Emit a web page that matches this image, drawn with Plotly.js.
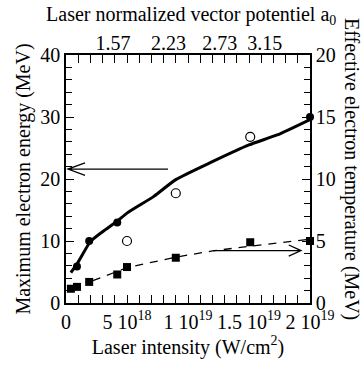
<!DOCTYPE html>
<html><head><meta charset="utf-8">
<script src="https://cdn.plot.ly/plotly-3.0.1.min.js"></script>
<style>
html,body{margin:0;padding:0;background:#fff}
#chart text, #chart tspan { font-family: "Liberation Serif", "Times New Roman", serif !important; }
</style>
</head><body><div id="chart"></div>
<script>
// Maximum electron energy (MeV), filled circles
const intensityFilled = [0.9e18, 1.9e18, 4.2e18, 2.0e19];
const energyFilled = [5.9, 10, 13, 30];
// Maximum electron energy (MeV), open circles
const intensityOpen = [5.0e18, 9.0e18, 1.51e19];
const energyOpen = [10, 17.7, 26.8];
// Effective electron temperature (MeV), squares
const intensitySquare = [0.4e18, 0.9e18, 1.9e18, 4.2e18, 5.0e18, 9.0e18, 1.51e19, 2.0e19];
const temperatureSquare = [1.15, 1.3, 1.7, 2.3, 2.9, 3.65, 4.9, 5.0];
// Solid fit curve (energy)
const fitEnergyX = [0.4e18, 1e18, 2e18, 3e18, 4.2e18, 5e18, 7.2e18, 9e18, 1.2e19, 1.5e19, 1.73e19, 2e19];
const fitEnergyY = [4.9, 6.6, 9.9, 11.5, 13.2, 14.5, 17.2, 19.9, 22.8, 25.5, 27.1, 29.6];
// Dashed fit curve (temperature)
const fitTempX = [2.2e18, 5e18, 9e18, 1.2e19, 1.5e19, 2e19];
const fitTempY = [1.8, 2.85, 3.7, 4.2, 4.57, 5.15];
// Tick labels
const bottomTickVals = [0, 5e18, 1e19, 1.5e19, 2e19];
const bottomTickText = ['0', '5 10<sup>18</sup>', '1 10<sup>19</sup>', '1.5 10<sup>19</sup>', '2 10<sup>19</sup>'];
const topTickVals = [3.85e18, 8.4e18, 1.26e19, 1.63e19];
const topTickText = ['1.57', '2.23', '2.73', '3.15'];
// Arrows (chart units): left arrow points to energy axis, right arrow to temperature axis
const leftArrowX = [8.36e18, 0.16e18];
const leftArrowY = [21.6, 21.6];
const rightArrowX = [1.205e19, 1.926e19];
const rightArrowY = [8.45, 8.45];

const black = '#000';
function fnt() { return {family: 'Liberation Serif', size: 20, color: black}; }

function arrowPath(x0, x1, y, dxHead, dyHead) {
  const dir = x1 > x0 ? -1 : 1;
  const bx = x1 + dir * dxHead;
  return `M ${x0} ${y} L ${x1} ${y} M ${bx} ${y + dyHead} L ${x1} ${y} L ${bx} ${y - dyHead}`;
}

const traces = [
  {x: fitEnergyX, y: fitEnergyY, mode: 'lines', line: {color: black, width: 3, shape: 'spline', smoothing: 0.6}, xaxis: 'x', yaxis: 'y', hoverinfo: 'none'},
  {x: fitTempX, y: fitTempY, mode: 'lines', line: {color: black, width: 1.3, dash: '8px,7px'}, xaxis: 'x', yaxis: 'y2', hoverinfo: 'none'},
  {x: intensityFilled, y: energyFilled, mode: 'markers', marker: {symbol: 'circle', size: 8, color: black}, xaxis: 'x', yaxis: 'y', cliponaxis: false},
  {x: intensityOpen, y: energyOpen, mode: 'markers', marker: {symbol: 'circle-open', size: 9, color: black, line: {width: 1.2}}, xaxis: 'x', yaxis: 'y', cliponaxis: false},
  {x: intensitySquare, y: temperatureSquare, mode: 'markers', marker: {symbol: 'square', size: 8, color: black}, xaxis: 'x', yaxis: 'y2', cliponaxis: false},
  {x: [0], y: [0], mode: 'markers', marker: {opacity: 0}, xaxis: 'x2', yaxis: 'y', hoverinfo: 'none'}
];

const layout = {
  width: 363, height: 370,
  margin: {l: 66, r: 53, t: 55, b: 66.5, pad: 0},
  paper_bgcolor: '#fff', plot_bgcolor: '#fff',
  showlegend: false,
  font: fnt(),
  title: {text: 'Laser normalized vector potentiel a<sub>0</sub>', font: fnt(), x: 0.513, xref: 'paper', xanchor: 'center', y: 0.962, yref: 'container', yanchor: 'middle'},
  xaxis: {
    range: [0, 2e19], showline: true, linecolor: black, linewidth: 1.5, mirror: 'allticks',
    ticks: 'inside', ticklen: 8, tickwidth: 1.2, tickcolor: black,
    tickvals: bottomTickVals, ticktext: bottomTickText, tickfont: fnt(),
    minor: {dtick: 1e18, tick0: 0, ticks: 'inside', ticklen: 5, tickwidth: 1, tickcolor: black, showgrid: false},
    showgrid: false, zeroline: false,
    title: {text: 'Laser intensity (W/cm<sup>2</sup>)', font: fnt(), standoff: 8}
  },
  xaxis2: {
    range: [0, 2e19], overlaying: 'x', side: 'top', showline: false, ticks: '',
    tickvals: topTickVals, ticktext: topTickText, tickfont: fnt(),
    showgrid: false, zeroline: false
  },
  yaxis: {
    range: [0, 40], showline: true, linecolor: black, linewidth: 1.5,
    ticks: 'inside', ticklen: 8, tickwidth: 1.2, tickcolor: black, dtick: 10, tick0: 0,
    minor: {dtick: 2, ticks: 'inside', ticklen: 6, tickwidth: 1, tickcolor: black, showgrid: false},
    tickfont: fnt(), showgrid: false, zeroline: false,
    title: {text: 'Maximum electron energy (MeV)', font: fnt(), standoff: 4}
  },
  yaxis2: {
    range: [0, 20], overlaying: 'y', side: 'right', showline: true, linecolor: black, linewidth: 1.5,
    ticks: 'inside', ticklen: 8, tickwidth: 1.2, tickcolor: black, dtick: 5, tick0: 0,
    minor: {dtick: 1, ticks: 'inside', ticklen: 6, tickwidth: 1, tickcolor: black, showgrid: false},
    tickfont: fnt(), showgrid: false, zeroline: false
  },
  shapes: [
    {type: 'path', xref: 'x', yref: 'y', path: arrowPath(leftArrowX[0], leftArrowX[1], leftArrowY[0], 1.4e18, 1.0), line: {color: black, width: 1.3}},
    {type: 'path', xref: 'x', yref: 'y', path: arrowPath(rightArrowX[0], rightArrowX[1], rightArrowY[0], 1.0e18, 0.9), line: {color: black, width: 1.3}}
  ],
  annotations: [
    {text: 'Effective electron temperature (MeV)', textangle: 90, xref: 'paper', yref: 'paper', x: 1, xshift: 42, y: 0.5, yshift: 10, xanchor: 'center', yanchor: 'middle', showarrow: false, font: fnt()}
  ]
};

Plotly.newPlot('chart', traces, layout, {displayModeBar: false});
</script></body></html>
